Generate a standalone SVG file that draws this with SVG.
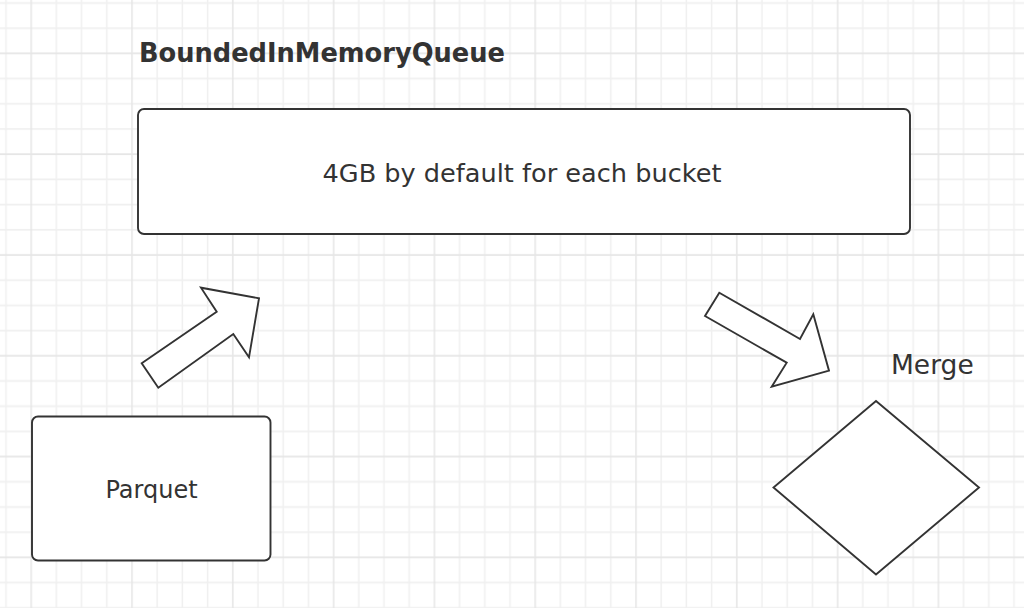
<svg xmlns="http://www.w3.org/2000/svg" width="1024" height="608" viewBox="0 0 1024 608">
  <style>
    .shape { fill: #ffffff; stroke: #333333; stroke-width: 1.9; stroke-linejoin: miter; }
    .lbl { font-family: "DejaVu Sans", Verdana, sans-serif; fill: #333333; }
    .minor { stroke: #f0f0f0; stroke-width: 1.5; }
    .major { stroke: #e6e6e6; stroke-width: 1.5; }
  </style>
  <defs>
    <pattern id="grid" patternUnits="userSpaceOnUse" x="-6.6" y="-9.6" width="100.8" height="100.8">
      <line class="minor" x1="12.6" y1="0" x2="12.6" y2="100.8"/>
      <line class="minor" x1="63" y1="0" x2="63" y2="100.8"/>
      <line class="minor" x1="88.2" y1="0" x2="88.2" y2="100.8"/>
      <line class="minor" x1="0" y1="12.6" x2="100.8" y2="12.6"/>
      <line class="minor" x1="0" y1="37.8" x2="100.8" y2="37.8"/>
      <line class="minor" x1="0" y1="88.2" x2="100.8" y2="88.2"/>
      <line class="major" x1="37.8" y1="0" x2="37.8" y2="100.8"/>
      <line class="major" x1="0" y1="63" x2="100.8" y2="63"/>
    </pattern>
  </defs>
  <rect x="0" y="0" width="1024" height="608" fill="#ffffff"/>
  <rect x="0" y="0" width="1024" height="608" fill="url(#grid)"/>

  <g id="title">
    <text class="lbl" x="139" y="62" font-size="25.7" font-weight="bold">BoundedInMemoryQueue</text>
  </g>

  <g id="queue">
    <rect class="shape" x="138" y="109" width="772" height="125" rx="6" ry="6"/>
    <text class="lbl" x="522" y="182" font-size="25.6" text-anchor="middle">4GB by default for each bucket</text>
  </g>

  <g id="parquet">
    <rect class="shape" x="32" y="416.5" width="238.5" height="144" rx="6" ry="6"/>
    <text class="lbl" x="151.5" y="497.5" font-size="24" text-anchor="middle">Parquet</text>
  </g>

  <g id="merge">
    <polygon class="shape" points="876,401 979,487.5 876,574.5 773.5,487.5"/>
  </g>
  <g id="merge-label">
    <text class="lbl" x="891" y="374" font-size="26.5">Merge</text>
  </g>

  <g id="connectors">
    <polygon class="shape" points="141.7,363.3 216.7,311.7 201,287.7 259,298.3 249,357.3 233.3,334 158.3,387.7"/>
    <polygon class="shape" points="719.3,292.7 800,339 813.3,314.3 829,370.7 771.7,386.7 786.7,362.7 705,316"/>
  </g>
</svg>
